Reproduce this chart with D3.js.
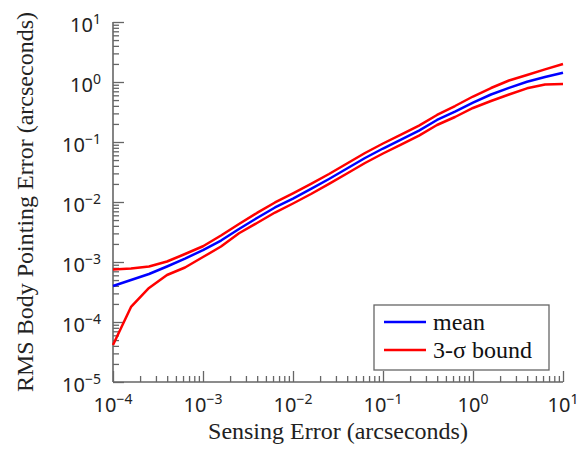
<!DOCTYPE html>
<html>
<head>
<meta charset="utf-8">
<script src="https://cdn.jsdelivr.net/npm/d3@7"></script>
<style>
  body { margin: 0; background: #fff; }
  svg { display: block; }
</style>
</head>
<body>
<script>
// sensing error samples (arcseconds), 0.2 decade steps
var sensingError = [1e-4, 1.585e-4, 2.512e-4, 3.981e-4, 6.31e-4,
	1e-3, 1.585e-3, 2.512e-3, 3.981e-3, 6.31e-3,
	1e-2, 1.585e-2, 2.512e-2, 3.981e-2, 6.31e-2,
	1e-1, 0.1585, 0.2512, 0.3981, 0.631,
	1, 1.585, 2.512, 3.981, 6.31, 10];

var meanError = [3.98e-4, 5.01e-4, 6.31e-4, 8.41e-4, 1.14e-3,
	1.58e-3, 2.28e-3, 3.55e-3, 5.41e-3, 8.10e-3,
	1.14e-2, 1.65e-2, 2.42e-2, 3.62e-2, 5.41e-2,
	7.79e-2, 0.110, 0.155, 0.233, 0.322,
	0.455, 0.619, 0.80, 1.01, 1.21, 1.43];

var upperBound = [7.50e-4, 7.79e-4, 8.41e-4, 1.02e-3, 1.36e-3,
	1.83e-3, 2.77e-3, 4.30e-3, 6.57e-3, 9.82e-3,
	1.39e-2, 2.0e-2, 2.93e-2, 4.38e-2, 6.56e-2,
	9.44e-2, 0.133, 0.188, 0.282, 0.398,
	0.573, 0.794, 1.06, 1.31, 1.62, 2.0];

var lowerBound = [4.14e-5, 1.78e-4, 3.69e-4, 6.07e-4, 8.10e-4,
	1.21e-3, 1.81e-3, 3.01e-3, 4.47e-3, 6.68e-3,
	9.44e-3, 1.36e-2, 2.0e-2, 2.99e-2, 4.47e-2,
	6.43e-2, 9.08e-2, 0.128, 0.192, 0.261,
	0.369, 0.482, 0.619, 0.785, 0.909, 0.926];

var xExponents = [-4, -3, -2, -1, 0, 1];
var yExponents = [-5, -4, -3, -2, -1, 0, 1];

var series = [
	{ name: "mean", values: meanError, color: "#0000ff" },
	{ name: "3-σ bound", values: upperBound, color: "#ff0000" },
	{ name: "", values: lowerBound, color: "#ff0000" }
];

var width = 587, height = 456;
var margin = {top: 22, right: 24, bottom: 74, left: 113};

var svg = d3.select("body").append("svg")
	.attr("width", width)
	.attr("height", height);

var x = d3.scaleLog()
	.domain([1e-4, 10])
	.range([margin.left, width - margin.right]);

var y = d3.scaleLog()
	.domain([1e-5, 10])
	.range([height - margin.bottom, margin.top]);

// minor ticks 2..9 in each decade
function minors(exps) {
	var out = [];
	for (var i = 0; i < exps.length - 1; i++)
		for (var k = 2; k < 10; k++) out.push(k * Math.pow(10, exps[i]));
	return out;
}
var majorX = xExponents.map(function(e) { return Math.pow(10, e); });
var majorY = yExponents.map(function(e) { return Math.pow(10, e); });

var axisColor = "#666";

function styleAxis(g) {
	g.select(".domain").remove();
	g.selectAll("line").attr("stroke", axisColor).attr("stroke-width", 1.3);
}

// x axis (ticks point up into the plot)
var xg = svg.append("g").attr("transform", "translate(0," + y.range()[0] + ")");
xg.append("g").call(d3.axisBottom(x).tickValues(minors(xExponents)).tickSize(-6).tickFormat("")).call(styleAxis);
xg.append("g").call(d3.axisBottom(x).tickValues(majorX).tickSize(-11).tickFormat("")).call(styleAxis);
xg.append("line")
	.attr("x1", x.range()[0]).attr("x2", x.range()[1])
	.attr("stroke", axisColor).attr("stroke-width", 1.6);

// y axis (ticks point right into the plot)
var yg = svg.append("g").attr("transform", "translate(" + x.range()[0] + ",0)");
yg.append("g").call(d3.axisLeft(y).tickValues(minors(yExponents)).tickSize(-6).tickFormat("")).call(styleAxis);
yg.append("g").call(d3.axisLeft(y).tickValues(majorY).tickSize(-11).tickFormat("")).call(styleAxis);
yg.append("line")
	.attr("y1", y.range()[0]).attr("y2", y.range()[1])
	.attr("stroke", axisColor).attr("stroke-width", 1.6);

function expLabel(sel, e) {
	sel.append("tspan").text("10");
	sel.append("tspan")
		.attr("dy", -8)
		.attr("font-size", 14)
		.text(e < 0 ? "\u2212" + (-e) : e);
}

svg.append("g").selectAll("text")
	.data(xExponents)
	.join("text")
	.attr("x", function(d) { return x(Math.pow(10, d)); })
	.attr("y", 412)
	.attr("text-anchor", "middle")
	.attr("font-family", "'Noto Sans', sans-serif")
	.attr("font-size", 20)
	.attr("fill", "#222")
	.each(function(d) { expLabel(d3.select(this), d); });

svg.append("g").selectAll("text")
	.data(yExponents)
	.join("text")
	.attr("x", 101)
	.attr("y", function(d) { return y(Math.pow(10, d)) + 10; })
	.attr("text-anchor", "end")
	.attr("font-family", "'Noto Sans', sans-serif")
	.attr("font-size", 20)
	.attr("fill", "#222")
	.each(function(d) { expLabel(d3.select(this), d); });

// axis titles
svg.append("text")
	.attr("x", d3.mean(x.range()))
	.attr("y", 439)
	.attr("text-anchor", "middle")
	.attr("font-family", "'Liberation Serif', 'Times New Roman', serif")
	.attr("font-size", 24)
	.attr("fill", "#222")
	.text("Sensing Error (arcseconds)");

svg.append("text")
	.attr("transform", "translate(33," + d3.mean(y.range()) + ") rotate(-90)")
	.attr("text-anchor", "middle")
	.attr("font-family", "'Liberation Serif', 'Times New Roman', serif")
	.attr("font-size", 24)
	.attr("fill", "#222")
	.text("RMS Body Pointing Error (arcseconds)");

// lines
var line = d3.line()
	.x(function(d, i) { return x(sensingError[i]); })
	.y(function(d) { return y(d); });

svg.append("g").selectAll("path")
	.data(series)
	.join("path")
	.attr("d", function(d) { return line(d.values); })
	.attr("fill", "none")
	.attr("stroke", function(d) { return d.color; })
	.attr("stroke-width", 2.5)
	.attr("stroke-linejoin", "round");

// legend
var legend = svg.append("g").attr("transform", "translate(374,305)");
legend.append("rect")
	.attr("width", 175).attr("height", 65)
	.attr("fill", "#fff")
	.attr("stroke", axisColor)
	.attr("stroke-width", 1.3);

var items = legend.selectAll("g.item")
	.data(series.filter(function(d) { return d.name; }))
	.join("g")
	.attr("class", "item")
	.attr("transform", function(d, i) { return "translate(0," + (17 + i * 28) + ")"; });

items.append("line")
	.attr("x1", 10).attr("x2", 52)
	.attr("stroke", function(d) { return d.color; })
	.attr("stroke-width", 2.5);

items.append("text")
	.attr("x", 59)
	.attr("y", 8)
	.attr("font-family", "'Liberation Serif', 'Times New Roman', serif")
	.attr("font-size", 24)
	.attr("fill", "#111")
	.text(function(d) { return d.name; });
</script>
</body>
</html>
